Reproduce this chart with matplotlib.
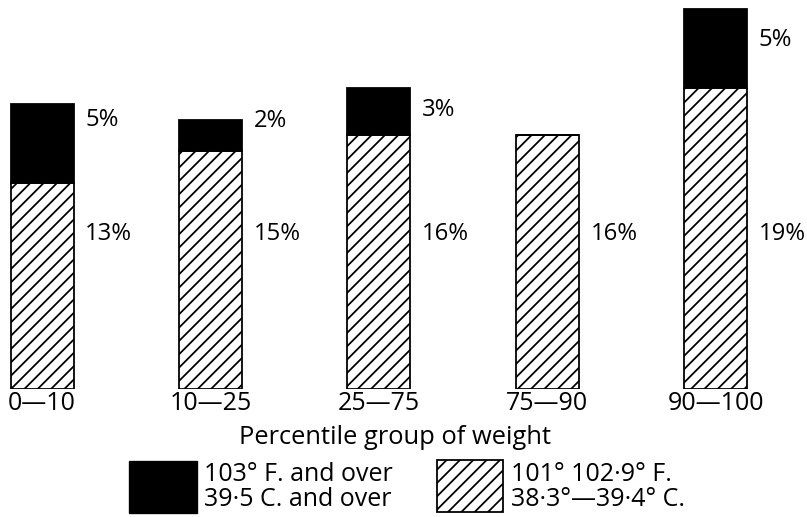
import matplotlib
matplotlib.use("Agg")
import matplotlib.pyplot as plt
from matplotlib.patches import Rectangle
import numpy as np

# ---- data ----
categories = ["0\u201410", "10\u201425", "25\u201475", "75\u201490", "90\u2014100"]
fever_101_102 = [13, 15, 16, 16, 19]   # hatched, 101-102.9 F
fever_103_over = [5, 2, 3, 0, 5]       # black, 103 F and over
xlabel = "Percentile group of weight"
legend_black = "103\u00b0 F. and over\n39\u00b75 C. and over"
legend_hatch = "101\u00b0 102\u00b79\u00b0 F.\n38\u00b73\u00b0\u201439\u00b74\u00b0 C."

# ---- layout (label heights, in value units) ----
top_label_y = [17.0, 16.9, 17.6, None, 22.0]
low_label_y = 9.8

W, H, DPI = 807, 517, 80
plt.rcParams['font.family'] = ['Open Sans', 'DejaVu Sans']
plt.rcParams['hatch.linewidth'] = 1.6
plt.rcParams['hatch.color'] = 'black'

fig = plt.figure(figsize=(W / DPI, H / DPI), dpi=DPI)
base_px = 389.0
ax = fig.add_axes([0, (H - base_px) / H, 1, base_px / H])
pxper = 15.85
spacing = 168.4
x0 = 42.0
ax.set_xlim(-x0 / spacing, (W - x0) / spacing)
ax.set_ylim(0, base_px / pxper)
ax.axis('off')

x = np.arange(len(categories))
width = 63 / spacing
ax.bar(x, fever_101_102, width, color='white', edgecolor='black',
       linewidth=1.6, hatch='//')
ax.bar(x, fever_103_over, width, bottom=fever_101_102, color='black',
       edgecolor='black', linewidth=1.6)

fs = 21.5
for i in range(len(categories)):
    ax.annotate(f"{fever_101_102[i]}%", xy=(x[i] + width / 2, low_label_y),
                xytext=(10.5, 0), textcoords='offset points',
                ha='left', va='center', fontsize=fs)
    if fever_103_over[i] > 0:
        ax.annotate(f"{fever_103_over[i]}%", xy=(x[i] + width / 2, top_label_y[i]),
                    xytext=(10.5, 0), textcoords='offset points',
                    ha='left', va='center', fontsize=fs)
    ax.text(x[i], -(404 - base_px) / base_px, categories[i],
            transform=ax.get_xaxis_transform(), ha='center', va='center',
            fontsize=22.5)

def fx(px):
    return px / W

def fy(py):
    return 1 - py / H

fig.text(fx(395), fy(437), xlabel, ha='center', va='center', fontsize=23)

fig.add_artist(Rectangle((fx(129), fy(513)), fx(197) - fx(129), fy(461) - fy(513),
                         transform=fig.transFigure, facecolor='black',
                         edgecolor='black', linewidth=1.2))
fig.add_artist(Rectangle((fx(437), fy(512)), fx(503) - fx(437), fy(460) - fy(512),
                         transform=fig.transFigure, facecolor='white',
                         edgecolor='black', linewidth=1.6, hatch='//'))
fig.text(fx(204), fy(487), legend_black, ha='left', va='center',
         fontsize=22.5, linespacing=1.0)
fig.text(fx(511), fy(487), legend_hatch, ha='left', va='center',
         fontsize=22.5, linespacing=1.0)

fig.savefig("out.png", dpi=DPI)
